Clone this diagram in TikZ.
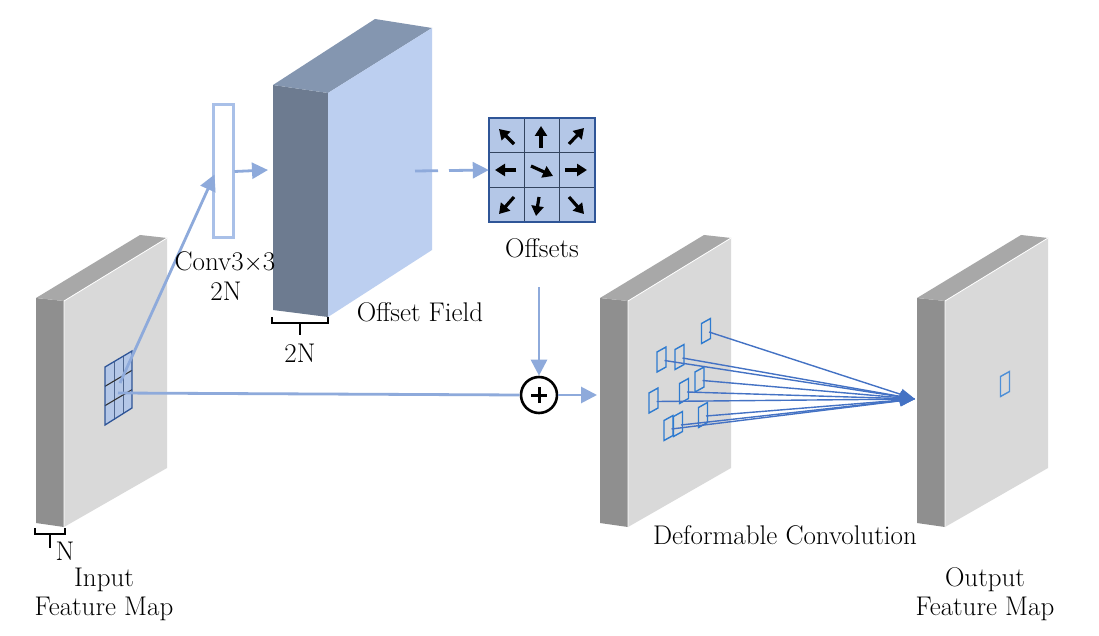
\documentclass[tikz,border=0pt]{standalone}
\usetikzlibrary{arrows.meta}
\definecolor{mapside}{HTML}{8F8F8F}
\definecolor{maptop}{HTML}{A8A8A8}
\definecolor{mapfront}{HTML}{D9D9D9}
\definecolor{ofside}{HTML}{6D7B90}
\definecolor{oftop}{HTML}{8496B0}
\definecolor{offront}{HTML}{BCCFF0}
\definecolor{arrblue}{HTML}{8EAADB}
\definecolor{convblue}{HTML}{A9C0E8}
\definecolor{gridfill}{HTML}{B4C7E7}
\definecolor{gridline}{HTML}{33445F}
\definecolor{gridborder}{HTML}{2F5597}
\definecolor{deflin}{HTML}{4472C4}
\definecolor{sampblue}{HTML}{2E7BD0}
\tikzset{
  lbl/.style={font=\fontsize{27}{29}\selectfont, inner sep=0pt, align=center},
  arr/.style={draw=arrblue, line width=2.8pt, -{Triangle[length=16pt,width=16pt]}},
  arrplain/.style={draw=arrblue, line width=2.8pt},
  defline/.style={draw=deflin, line width=1.4pt, -{Triangle[length=15pt,width=11pt]}},
  samp/.style={draw=sampblue, line width=1.4pt},
  bracketline/.style={draw=black, line width=1.7pt},
  offarrow/.style={draw=black, line width=3.2pt, -{Triangle[length=10pt,width=12pt]}},
  mapedge/.style={draw=white, line width=0.8pt}
}
\newcommand\featuremap[1]{%
  \begin{scope}[shift={(#1,0)}]
    \fill[mapside] (0,298) -- (28,301) -- (28,527) -- (0,523) -- cycle;
    \fill[maptop] (0,298) -- (28,301) -- (131,238) -- (104,235) -- cycle;
    \fill[mapfront] (28,301) -- (131,238) -- (131,468) -- (28,527) -- cycle;
    \draw[mapedge] (28,527) -- (28,301) -- (131,238);
  \end{scope}}
\newcommand\sampbox[3]{%
  \draw[samp] (#2-4.5,#3-7.5) -- (#2+4.5,#3-12.5) -- (#2+4.5,#3+7.5) -- (#2-4.5,#3+12.5) -- cycle;
  \coordinate (#1) at (#2+3,#3+1);}
\begin{document}
\begin{tikzpicture}[x=1pt,y=-1pt]
\useasboundingbox (0,0) rectangle (1099,636);
\fill[white] (0,0) rectangle (1099,636);

% ---- feature maps ----
\featuremap{36}
\featuremap{600}
\featuremap{917}

% ---- input grid ----
\fill[gridfill] (105,367) -- (132,351) -- (132,408) -- (105,425) -- cycle;
\foreach \i in {1,2} {
  \draw[draw=gridborder!60!gray, line width=1pt] (105+9*\i,367-5.4*\i) -- (105+9*\i,425-5.4*\i);
  \draw[draw=black!80, line width=1.1pt] (105,367+19.33*\i) -- (132,351+19.33*\i);
}
\draw[draw=gridborder, line width=1.3pt] (105,367) -- (132,351) -- (132,408) -- (105,425) -- cycle;
\coordinate (g1) at (120,383);
\coordinate (g2) at (118,393);

% ---- conv box ----
\node[draw=convblue, line width=3pt, fill=white, minimum width=20pt, minimum height=133pt, inner sep=0pt] (conv) at (223,171.5) {};

% ---- offset field ----
\fill[ofside] (273,85) -- (328,93) -- (328,317) -- (273,310) -- cycle;
\fill[oftop] (273,85) -- (328,93) -- (432,28) -- (375,19) -- cycle;
\fill[offront] (328,93) -- (432,28) -- (432,250) -- (328,317) -- cycle;
\coordinate (ofin) at (268,170);
\coordinate (ofout) at (415,171);

% ---- offsets grid ----
\fill[gridfill] (489,118) rectangle (595,222);
\foreach \i in {1,2} {
  \draw[draw=gridline, line width=1.4pt] (489+35.33*\i,118) -- (489+35.33*\i,222);
  \draw[draw=gridline, line width=1.4pt] (489,118+34.67*\i) -- (595,118+34.67*\i);
}
\draw[draw=gridborder, line width=2pt] (489,118) rectangle (595,222);
\node[inner sep=0pt, minimum width=106pt, minimum height=104pt] (offs) at (542,170) {};
\draw[offarrow] (514,144) -- (499,129);
\draw[offarrow] (541,148) -- (541,126);
\draw[offarrow] (569,144) -- (584,128);
\draw[offarrow] (516,170) -- (495,170);
\draw[offarrow] (531,166) -- (553,176);
\draw[offarrow] (565,170) -- (587,170);
\draw[offarrow] (514,197) -- (499,214);
\draw[offarrow] (539,197) -- (536,216);
\draw[offarrow] (569,197) -- (584,214);
\coordinate (offbot) at (539,287);

% ---- plus ----
\node[draw=black, circle, line width=2.6pt, minimum size=36pt, inner sep=0pt, fill=white] (plus) at (539,395) {};
\draw[line width=3pt] ([xshift=-8pt]plus.center) -- ([xshift=8pt]plus.center);
\draw[line width=3pt] ([yshift=-8pt]plus.center) -- ([yshift=8pt]plus.center);
\coordinate (defin) at (597,395);

% ---- connectors ----
\draw[arr] (g1) -- ([xshift=3pt,yshift=-3pt]conv.west);
\draw[arr] (conv.east) -- (ofin);
\draw[arr, dash pattern=on 23pt off 11pt on 60pt] (ofout) -- (offs.west);
\draw[arrplain] (g2) -- (plus.west);
\draw[arr] (offbot) -- (plus.north);
\draw[arr] (plus.east) -- (defin);

% ---- sampling locations ----
\sampbox{sa}{706}{331}
\sampbox{sb}{661.5}{359.5}
\sampbox{sc}{679.5}{357}
\sampbox{sd}{699.5}{379.5}
\sampbox{se}{684}{391}
\sampbox{sf}{653.5}{400.5}
\sampbox{sg}{703}{415}
\sampbox{sh}{668.5}{428}
\sampbox{si}{678}{424}
\coordinate (tip) at (915,399);
\foreach \s in {sa,sb,sc,sd,se,sf,sg,sh,si} {
  \draw[defline] (\s) -- (tip);
}
\draw[samp, draw=sampblue!85!white] (1000.5,376.5) -- (1009.5,371.5) -- (1009.5,391.5) -- (1000.5,396.5) -- cycle;

% ---- brackets ----
\draw[bracketline] (35,528) -- (35,534) -- (65,534) -- (65,528);
\draw[bracketline] (50,534) -- (50,548);
\draw[bracketline] (272,317) -- (272,323) -- (328,323) -- (328,317);
\draw[bracketline] (300,323) -- (300,335);

% ---- labels ----
\node[lbl] (lconv) at (225,262) {Conv3$\times$3};
\node[lbl] (lconvn) at (226,291) {2N};
\node[lbl] (lof) at (420,312) {Offset Field};
\node[lbl] (lof2n) at (300,353) {2N};
\node[lbl] (loffs) at (542,248) {Offsets};
\node[lbl] (ln) at (65,551) {N};
\node[lbl] (lin) at (104,594) {Input\\Feature Map};
\node[lbl] (ldef) at (785,535) {Deformable Convolution};
\node[lbl] (lout) at (985,594) {Output\\Feature Map};
\end{tikzpicture}
\end{document}
